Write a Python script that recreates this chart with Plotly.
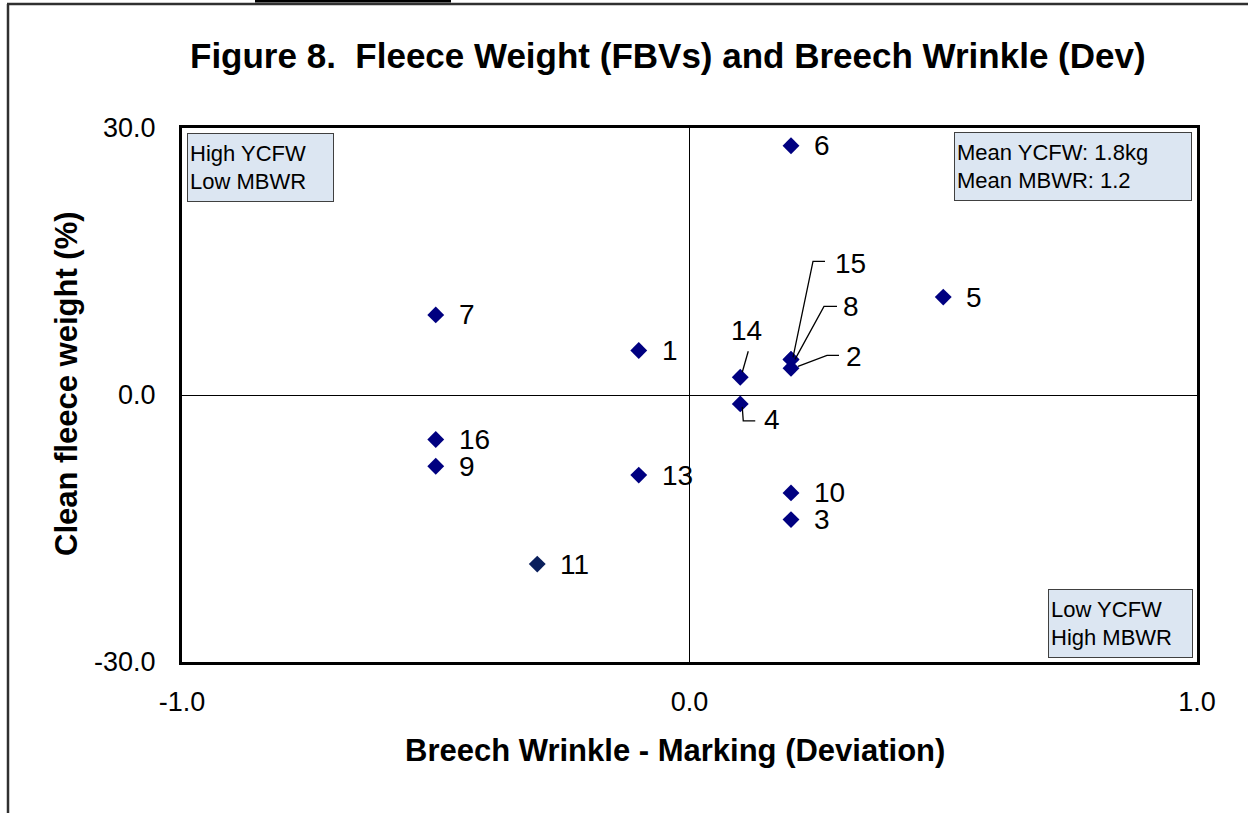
import plotly.graph_objects as go

# ---- data ----
ids = ["1", "2", "3", "4", "5", "6", "7", "8", "9", "10", "11", "13", "14", "15", "16"]
breech_wrinkle = [-0.1, 0.2, 0.2, 0.1, 0.5, 0.2, -0.5, 0.2, -0.5, 0.2, -0.3, -0.1, 0.1, 0.2, -0.5]
fleece_weight = [5, 3, -14, -1, 11, 28, 9, 4, -8, -11, -19, -9, 2, 4, -5]
x_ticks = [-1.0, 0.0, 1.0]
y_ticks = [-30.0, 0.0, 30.0]

OFF = 0  # body margin removed via post_script
W, H = 1248 - OFF, 813 - OFF
L, T = 182 - OFF, 128 - OFF
PW, PH = 1015, 534
R, B = W - L - PW, H - T - PH
XR, YR = (-1.0, 1.0), (-30.0, 30.0)
px_x = PW / (XR[1] - XR[0])
px_y = PH / (YR[1] - YR[0])

FONT = "Arial, 'Liberation Sans', sans-serif"
NAVY = "#000080"

colors = ["#0a1f5c" if i == "11" else NAVY for i in ids]

fig = go.Figure()
fig.add_trace(go.Scatter(
    x=breech_wrinkle, y=fleece_weight, mode="markers",
    marker=dict(symbol="diamond", size=13, color=colors, line=dict(width=0)),
    hoverinfo="skip", showlegend=False,
))

# label placement (pixel offsets) – default: to the right
special = {
    "14": dict(dx=6, dy=-47, anchor="center"),
    "15": dict(dx=42, dy=-96, anchor="left"),
    "8": dict(dx=50, dy=-53, anchor="left"),
    "2": dict(dx=53, dy=-12, anchor="left"),
    "4": dict(dx=22, dy=16, anchor="left"),
}
leaders = {
    "15": [(2, -2), (22, -98), (34, -98)],
    "8": [(4, 0), (33, -53), (46, -53)],
    "2": [(7, -2), (36, -13), (48, -13)],
    "14": [(2, -5), (8, -26)],
    "4": [(2, 3), (3, 17), (15, 17)],
}

annotations = []
shapes = []
for i, xv, yv in zip(ids, breech_wrinkle, fleece_weight):
    s = special.get(i, dict(dx=21, dy=0, anchor="left"))
    annotations.append(dict(
        x=xv, y=yv, xref="x", yref="y", text=i, showarrow=False,
        xanchor=s["anchor"], yanchor="middle", xshift=s["dx"], yshift=-s["dy"],
        font=dict(family=FONT, size=28, color="black"),
    ))
    if i in leaders:
        pts = leaders[i]
        path = ""
        for k, (dx, dy) in enumerate(pts):
            px = xv + dx / px_x
            py = yv - dy / px_y
            path += ("M" if k == 0 else " L") + f" {px:.5f} {py:.5f}"
        shapes.append(dict(type="path", path=path, xref="x", yref="y",
                           line=dict(color="black", width=1.3)))

def px2paper_x(p):
    return (p - OFF - L) / PW

def px2paper_y(p):
    return (T + PH - (p - OFF)) / PH

# Title and axis titles
annotations.append(dict(
    x=px2paper_x(668), y=px2paper_y(55), xref="paper", yref="paper",
    text="<b>Figure 8.  Fleece Weight (FBVs) and Breech Wrinkle (Dev)</b>",
    showarrow=False, xanchor="center", yanchor="middle",
    font=dict(family=FONT, size=35, color="black")))
annotations.append(dict(
    x=px2paper_x(675), y=px2paper_y(750), xref="paper", yref="paper",
    text="<b>Breech Wrinkle - Marking (Deviation)</b>",
    showarrow=False, xanchor="center", yanchor="middle",
    font=dict(family=FONT, size=31, color="black")))
annotations.append(dict(
    x=px2paper_x(66), y=px2paper_y(384), xref="paper", yref="paper",
    text="<b>Clean fleece weight (%)</b>", textangle=-90,
    showarrow=False, xanchor="center", yanchor="middle",
    font=dict(family=FONT, size=31, color="black")))

box_style = dict(showarrow=False, bgcolor="#dce6f2", bordercolor="#404040",
                 borderwidth=1, borderpad=2, align="left", xref="paper", yref="paper",
                 font=dict(family=FONT, size=22, color="black"))
annotations.append(dict(x=px2paper_x(187), y=px2paper_y(133), xanchor="left", yanchor="top",
                        text="High YCFW<br>Low MBWR", width=141, height=63, **box_style))
annotations.append(dict(x=px2paper_x(954), y=px2paper_y(132), xanchor="left", yanchor="top",
                        text="Mean YCFW: 1.8kg<br>Mean MBWR: 1.2", width=232, height=63, **box_style))
annotations.append(dict(x=px2paper_x(1193), y=px2paper_y(658), xanchor="right", yanchor="bottom",
                        text="Low YCFW<br>High MBWR", width=139, height=63, **box_style))

# page frame lines and top bar
shapes.append(dict(type="line", xref="paper", yref="paper",
                   x0=px2paper_x(8), x1=px2paper_x(8), y0=px2paper_y(4), y1=px2paper_y(813),
                   line=dict(color="#303030", width=2.5)))
shapes.append(dict(type="line", xref="paper", yref="paper",
                   x0=px2paper_x(7), x1=px2paper_x(1248), y0=px2paper_y(4), y1=px2paper_y(4),
                   line=dict(color="#303030", width=2.5)))
shapes.append(dict(type="rect", xref="paper", yref="paper",
                   x0=px2paper_x(255), x1=px2paper_x(451), y0=px2paper_y(0), y1=px2paper_y(2.5),
                   fillcolor="black", line=dict(width=0)))

fig.update_layout(
    width=W, height=H,
    margin=dict(l=L, r=R, t=T, b=B, pad=0),
    paper_bgcolor="white", plot_bgcolor="white",
    annotations=annotations, shapes=shapes,
    font=dict(family=FONT, color="black"),
)
fig.update_xaxes(range=list(XR), tickvals=x_ticks, ticktext=[f"{v:.1f}" for v in x_ticks],
                 showgrid=False, zeroline=True, zerolinecolor="black", zerolinewidth=1,
                 showline=True, linecolor="black", linewidth=3, mirror=True,
                 ticks="", tickfont=dict(family=FONT, size=27, color="black"),
                 ticklabelstandoff=14)
fig.update_yaxes(range=list(YR), tickvals=y_ticks, ticktext=[f"{v:.1f}" for v in y_ticks],
                 showgrid=False, zeroline=True, zerolinecolor="black", zerolinewidth=1,
                 showline=True, linecolor="black", linewidth=3, mirror=True,
                 ticks="", tickfont=dict(family=FONT, size=27, color="black"),
                 ticklabelstandoff=18)

fig.write_html(
    "out.html",
    config={"displayModeBar": False, "staticPlot": True},
    post_script="document.body.style.margin='0';document.body.style.overflow='hidden';",
)
